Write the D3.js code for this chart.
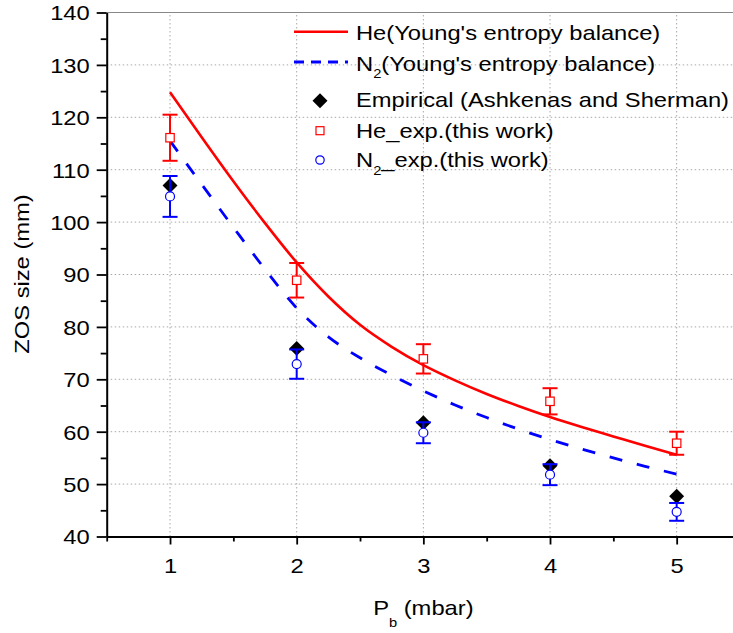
<!DOCTYPE html>
<html>
<head>
<meta charset="utf-8">
<script src="https://cdn.jsdelivr.net/npm/d3@7"></script>
<style>
  html, body { margin: 0; padding: 0; background: #fff; }
  svg { display: block; }
</style>
</head>
<body>
<div id="chart"></div>
<script>
// pressure points (mbar)
const pressures = [1, 2, 3, 4, 5];

// model curves
const modelP = [1, 1.25, 1.5, 1.75, 2, 2.25, 2.5, 2.75, 3, 3.25, 3.5, 3.75, 4, 4.25, 4.5, 4.75, 5];
const heModel = [124.8, 116.2, 107.8, 99.8, 92.3, 85.8, 80.4, 76.2, 72.7, 69.8, 67.2, 64.9, 62.8, 60.9, 59.1, 57.3, 55.6];
const n2Model = [115.5, 107.2, 99.0, 91.0, 83.6, 78.1, 74.1, 70.8, 67.8, 65.1, 62.7, 60.5, 58.5, 56.7, 55.0, 53.4, 51.9];

// measured points
const empirical = [107.0, 75.9, 61.7, 53.5, 47.7];
const heExp = [116.1, 88.9, 73.9, 65.8, 57.8];
const heErr = [4.4, 3.3, 2.8, 2.5, 2.2];
const n2Exp = [104.9, 72.9, 59.8, 51.8, 44.7];
const n2Err = [3.9, 2.8, 2.0, 2.0, 1.7];

const xTicks = [1, 2, 3, 4, 5];
const xMinor = [0.5, 1.5, 2.5, 3.5, 4.5, 5.5];
const yTicks = [40, 50, 60, 70, 80, 90, 100, 110, 120, 130, 140];
const yMinor = [45, 55, 65, 75, 85, 95, 105, 115, 125, 135];

const width = 733, height = 633;
const FONT = "'Liberation Sans', Arial, sans-serif";
const SX = 1.13; // glyphs in the original are a bit wider than Arial

const svg = d3.select("#chart").append("svg")
  .attr("width", width)
  .attr("height", height)
  .style("background", "#fff");

const x = d3.scaleLinear().domain([0.5, 5.5]).range([106.7, 740]);
const y = d3.scaleLinear().domain([40, 140]).range([536.5, 12.5]);

const RED = "#ff0000", BLUE = "#0000ff";

function addText(parent, tx, ty, anchor, rot = 0, size = 21) {
  return parent.append("text")
    .attr("transform", `translate(${tx},${ty}) rotate(${rot}) scale(${SX},1)`)
    .attr("text-anchor", anchor)
    .style("font-family", FONT)
    .style("font-size", size + "px")
    .attr("fill", "#000");
}

// grid
const grid = svg.append("g").attr("stroke", "#a8a8a8").attr("stroke-width", 1).attr("stroke-dasharray", "1.5,2.5");
grid.selectAll("line.h").data(yTicks.filter(t => t > 40 && t < 140)).join("line")
  .attr("x1", x(0.5)).attr("x2", x(5.5)).attr("y1", d => y(d)).attr("y2", d => y(d));
grid.selectAll("line.v").data(xTicks).join("line")
  .attr("y1", y(40)).attr("y2", y(140)).attr("x1", d => x(d)).attr("x2", d => x(d));

// top frame
svg.append("line")
  .attr("x1", x(0.5)).attr("x2", x(5.5)).attr("y1", y(140)).attr("y2", y(140))
  .attr("stroke", "#888").attr("stroke-width", 1.2);

// model curves
const line = d3.line().x(d => x(d[0])).y(d => y(d[1])).curve(d3.curveMonotoneX);
svg.append("path")
  .datum(modelP.map((p, i) => [p, heModel[i]]))
  .attr("d", line).attr("fill", "none").attr("stroke", RED).attr("stroke-width", 2.6);
svg.append("path")
  .datum(modelP.map((p, i) => [p, n2Model[i]]))
  .attr("d", line).attr("fill", "none").attr("stroke", BLUE).attr("stroke-width", 2.8)
  .attr("stroke-dasharray", "13,15");

// empirical diamonds
const diamond = d3.symbol().type(d3.symbolSquare).size(112);
svg.append("g").selectAll("path").data(pressures).join("path")
  .attr("d", diamond)
  .attr("transform", (d, i) => `translate(${x(d)},${y(empirical[i])}) rotate(45)`)
  .attr("fill", "#000");

function errorBars(vals, errs, color) {
  const g = svg.append("g").attr("stroke", color).attr("stroke-width", 2).attr("fill", "none");
  pressures.forEach((p, i) => {
    const cx = x(p), top = y(vals[i] + errs[i]), bot = y(vals[i] - errs[i]);
    g.append("line").attr("x1", cx).attr("x2", cx).attr("y1", top).attr("y2", bot);
    g.append("line").attr("x1", cx - 7.5).attr("x2", cx + 7.5).attr("y1", top).attr("y2", top);
    g.append("line").attr("x1", cx - 7.5).attr("x2", cx + 7.5).attr("y1", bot).attr("y2", bot);
  });
}

errorBars(heExp, heErr, RED);
svg.append("g").selectAll("rect").data(pressures).join("rect")
  .attr("x", (d, i) => x(d) - 4.2).attr("y", (d, i) => y(heExp[i]) - 4.2)
  .attr("width", 8.4).attr("height", 8.4)
  .attr("fill", "#fff").attr("stroke", RED).attr("stroke-width", 1.2);

errorBars(n2Exp, n2Err, BLUE);
svg.append("g").selectAll("circle").data(pressures).join("circle")
  .attr("cx", d => x(d)).attr("cy", (d, i) => y(n2Exp[i])).attr("r", 4.5)
  .attr("fill", "#fff").attr("stroke", BLUE).attr("stroke-width", 1.2);

// axes
const yAxis = svg.append("g").attr("transform", `translate(${x(0.5)},0)`)
  .call(d3.axisLeft(y).tickValues(yTicks).tickSize(10).tickSizeOuter(0).tickFormat(d3.format("d")));
yAxis.selectAll(".tick text")
  .attr("x", 0).attr("dy", "0.35em")
  .attr("transform", `translate(-17,0) scale(${SX},1)`)
  .style("font-family", FONT).style("font-size", "21px").attr("fill", "#000");
svg.append("g").attr("transform", `translate(${x(0.5)},0)`)
  .call(d3.axisLeft(y).tickValues(yMinor).tickSize(6).tickSizeOuter(0).tickFormat(""))
  .select(".domain").remove();

const xAxis = svg.append("g").attr("transform", `translate(0,${y(40)})`)
  .call(d3.axisBottom(x).tickValues(xTicks).tickSize(8).tickSizeOuter(0).tickFormat(d3.format("d")));
xAxis.selectAll(".tick text")
  .attr("y", 0).attr("dy", 0)
  .attr("transform", `translate(0,36) scale(${SX},1)`)
  .style("font-family", FONT).style("font-size", "21px").attr("fill", "#000");
svg.append("g").attr("transform", `translate(0,${y(40)})`)
  .call(d3.axisBottom(x).tickValues(xMinor).tickSize(5).tickSizeOuter(0).tickFormat(""))
  .select(".domain").remove();

svg.selectAll(".domain").attr("stroke", "#000").attr("stroke-width", 2);
svg.selectAll(".tick line").attr("stroke", "#000").attr("stroke-width", 1.8);

// axis titles
addText(svg, 29, 274, "middle", -90).text("ZOS size (mm)");
const xt = addText(svg, x(3), 615, "middle");
xt.append("tspan").text("P");
xt.append("tspan").attr("dy", 12).style("font-size", "13px").text("b");
xt.append("tspan").attr("dy", -12).text(" (mbar)");

// legend
const leg = svg.append("g");
leg.append("line").attr("x1", 294).attr("x2", 348).attr("y1", 31.7).attr("y2", 31.7)
  .attr("stroke", RED).attr("stroke-width", 2.6);
leg.append("line").attr("x1", 294).attr("x2", 348).attr("y1", 62).attr("y2", 62)
  .attr("stroke", BLUE).attr("stroke-width", 2.8).attr("stroke-dasharray", "10,7");
leg.append("path").attr("d", diamond).attr("transform", "translate(320,100.7) rotate(45)").attr("fill", "#000");
leg.append("rect").attr("x", 316).attr("y", 126.7).attr("width", 8).attr("height", 8)
  .attr("fill", "#fff").attr("stroke", RED).attr("stroke-width", 1.2);
leg.append("circle").attr("cx", 320).attr("cy", 160).attr("r", 4.2)
  .attr("fill", "#fff").attr("stroke", BLUE).attr("stroke-width", 1.2);

addText(leg, 356, 40, "start").text("He(Young's entropy balance)");
const l2 = addText(leg, 356, 70.5, "start");
l2.append("tspan").text("N");
l2.append("tspan").attr("dy", 7.5).style("font-size", "13px").text("2");
l2.append("tspan").attr("dy", -7.5).text("(Young's entropy balance)");
addText(leg, 356, 107, "start").text("Empirical (Ashkenas and Sherman)");
addText(leg, 356, 138, "start").text("He_exp.(this work)");
const l5 = addText(leg, 356, 167, "start");
l5.append("tspan").text("N");
l5.append("tspan").attr("dy", 8).style("font-size", "13px").text("2");
l5.append("tspan").attr("dy", -8).text("_exp.(this work)");
</script>
</body>
</html>
